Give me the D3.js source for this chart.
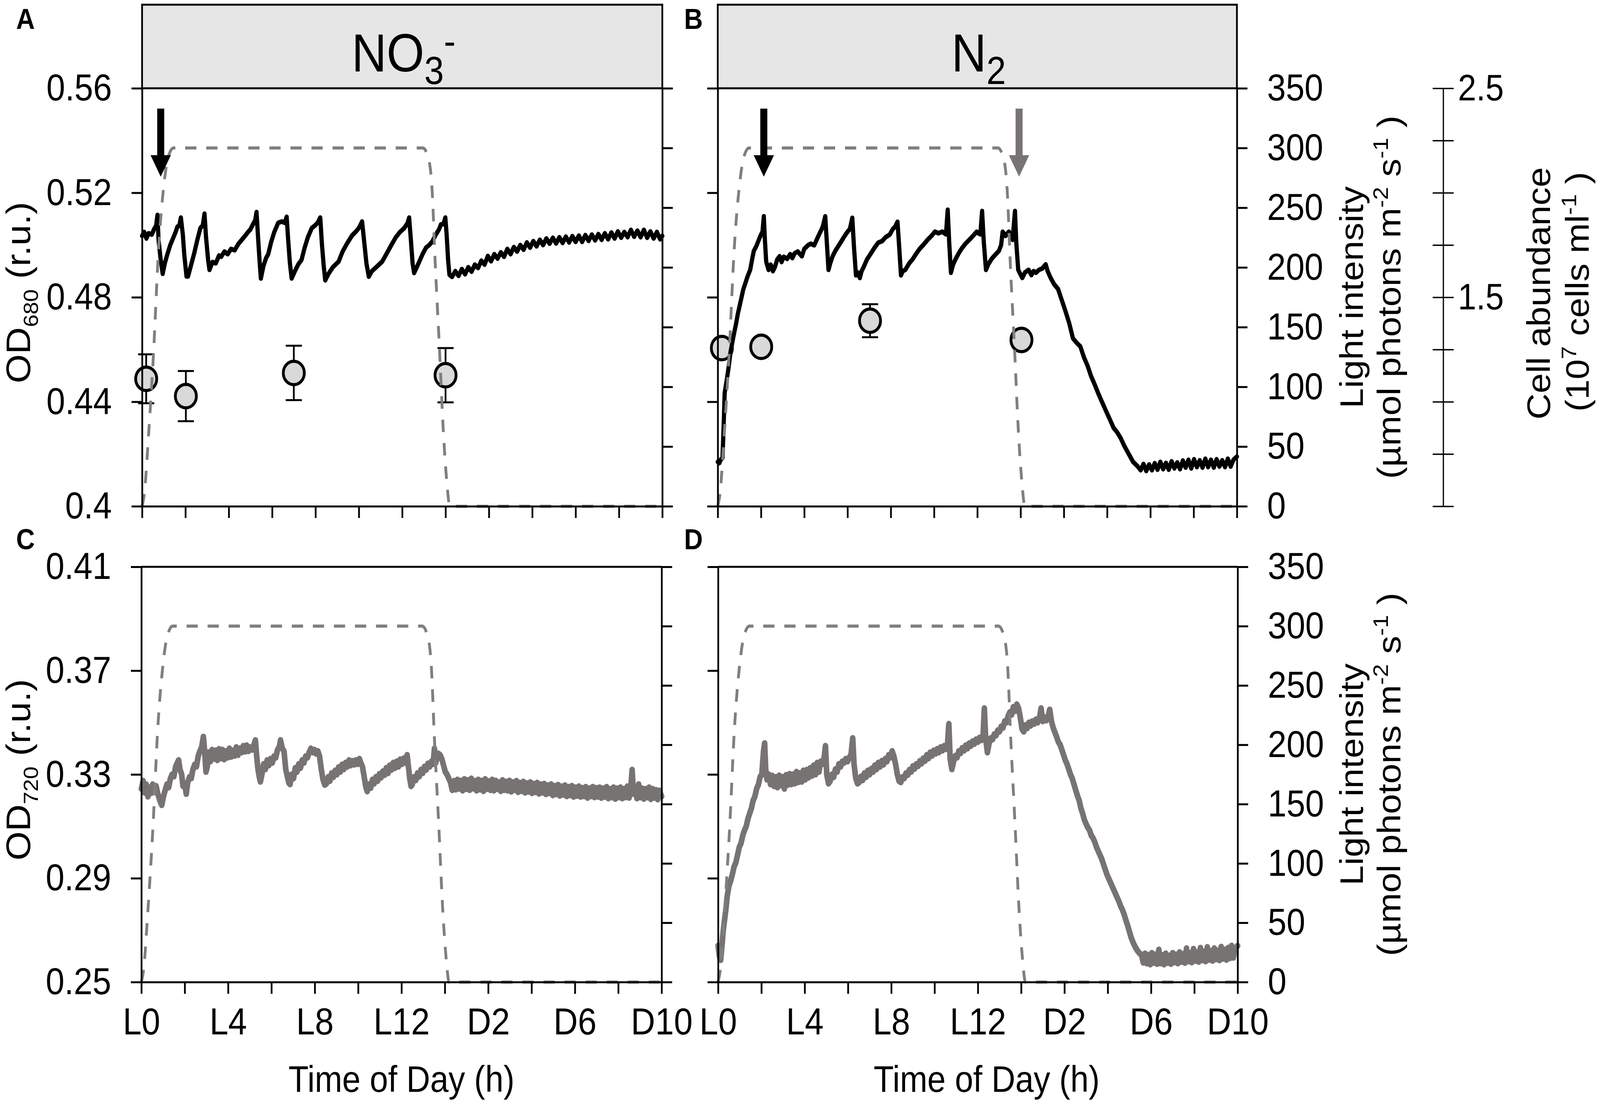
<!DOCTYPE html>
<html>
<head>
<meta charset="utf-8">
<script src="https://cdn.jsdelivr.net/npm/d3@7"></script>
<style>
  html, body { margin: 0; padding: 0; background: #fff; overflow: hidden; }
  svg { display: block; width: 100vw; height: 100vh; }
</style>
</head>
<body>
<div id="chart"></div>
<script>
// ---- data (time in h after lights on: L0..L14 = D0..D10) ----
const lightCurve = [[0,0],[0.1,10],[0.3,60],[0.53,129],[0.76,215],[1.0,268],[1.2,292],[1.45,300],[12.95,300],[13.2,292],[13.38,265],[13.52,205],[13.72,132],[13.9,62],[14.06,20],[14.2,0],[24,0]];

// OD680, NO3- culture
const odA = [[0,0.5035],[0.1,0.5050],[0.2,0.5025],[0.3,0.5045],[0.45,0.5040],[0.55,0.5060],[0.65,0.5075],[0.71,0.5115],[0.76,0.5020],[0.85,0.4950],[0.95,0.4890],[1.05,0.4930],[1.15,0.4960],[1.3,0.5000],[1.45,0.5030],[1.55,0.5050],[1.63,0.5070],[1.72,0.5075],[1.79,0.5105],[1.88,0.5040],[1.95,0.4960],[2.05,0.4880],[2.12,0.4880],[2.25,0.4920],[2.41,0.4970],[2.55,0.5020],[2.69,0.5065],[2.8,0.5075],[2.88,0.5120],[2.95,0.5030],[3.05,0.4940],[3.11,0.4905],[3.25,0.4935],[3.4,0.4930],[3.55,0.4960],[3.65,0.4955],[3.8,0.4975],[3.95,0.4965],[4.1,0.4985],[4.27,0.4980],[4.45,0.5005],[4.6,0.5020],[4.75,0.5035],[4.89,0.5050],[5.0,0.5060],[5.12,0.5080],[5.22,0.5095],[5.28,0.5126],[5.35,0.5030],[5.42,0.4940],[5.48,0.4872],[5.6,0.4920],[5.72,0.4950],[5.82,0.4965],[5.95,0.5010],[6.1,0.5050],[6.28,0.5085],[6.45,0.5090],[6.58,0.5085],[6.67,0.5108],[6.74,0.5020],[6.82,0.4930],[6.9,0.4872],[7.05,0.4900],[7.2,0.4925],[7.36,0.4944],[7.5,0.4990],[7.65,0.5030],[7.83,0.5065],[7.98,0.5075],[8.1,0.5085],[8.22,0.5105],[8.3,0.5000],[8.38,0.4920],[8.45,0.4865],[8.6,0.4890],[8.8,0.4915],[9.07,0.4937],[9.25,0.4975],[9.45,0.5005],[9.69,0.5037],[9.85,0.5050],[10.0,0.5065],[10.15,0.5090],[10.25,0.5010],[10.35,0.4930],[10.46,0.4879],[10.6,0.4900],[10.8,0.4915],[11.08,0.4937],[11.3,0.4970],[11.5,0.5000],[11.7,0.5029],[11.9,0.5050],[12.1,0.5065],[12.25,0.5085],[12.32,0.5105],[12.4,0.5020],[12.48,0.4930],[12.55,0.4893],[12.7,0.4920],[12.94,0.4965],[13.1,0.4990],[13.25,0.5000],[13.4,0.5015],[13.55,0.5040],[13.7,0.5060],[13.79,0.5079],[13.9,0.5080],[13.99,0.5105],[14.05,0.5040],[14.12,0.4940],[14.18,0.4886],[14.30,0.4878],[14.45,0.4900],[14.60,0.4882],[14.75,0.4908],[14.90,0.4888],[15.05,0.4915],[15.20,0.4898],[15.35,0.4925],[15.50,0.4912],[15.65,0.4940],[15.80,0.4925],[15.95,0.4958],[16.10,0.4938],[16.25,0.4965],[16.40,0.4948],[16.55,0.4972],[16.70,0.4955],[16.85,0.4985],[17.00,0.4965],[17.15,0.4992],[17.30,0.4975],[17.45,0.5000],[17.60,0.4982],[17.75,0.5010],[17.90,0.4990],[18.05,0.5015],[18.20,0.4995],[18.35,0.5020],[18.50,0.5000],[18.65,0.5025],[18.80,0.5005],[18.95,0.5028],[19.10,0.5006],[19.25,0.5030],[19.40,0.5008],[19.55,0.5032],[19.70,0.5010],[19.85,0.5034],[20.00,0.5012],[20.15,0.5036],[20.30,0.5012],[20.45,0.5038],[20.60,0.5016],[20.75,0.5040],[20.90,0.5018],[21.05,0.5042],[21.20,0.5020],[21.35,0.5045],[21.50,0.5022],[21.65,0.5048],[21.80,0.5025],[21.95,0.5052],[22.10,0.5028],[22.25,0.5050],[22.40,0.5030],[22.55,0.5058],[22.70,0.5032],[22.85,0.5055],[23.00,0.5030],[23.15,0.5058],[23.30,0.5028],[23.45,0.5052],[23.60,0.5025],[23.75,0.5050],[23.90,0.5022],[24.00,0.5035]];

// OD680, N2 culture
const odB = [[0,0.4170],[0.07,0.4165],[0.15,0.4180],[0.22,0.4185],[0.27,0.4300],[0.32,0.4433],[0.42,0.4485],[0.5,0.4530],[0.59,0.4590],[0.68,0.4630],[0.76,0.4664],[0.85,0.4700],[0.93,0.4737],[1.02,0.4770],[1.1,0.4800],[1.18,0.4830],[1.27,0.4852],[1.38,0.4880],[1.5,0.4905],[1.6,0.4950],[1.67,0.4978],[1.78,0.4995],[1.9,0.5020],[2.0,0.5040],[2.07,0.5051],[2.13,0.5110],[2.18,0.5020],[2.24,0.4936],[2.35,0.4905],[2.45,0.4925],[2.55,0.4900],[2.64,0.4915],[2.75,0.4945],[2.86,0.4957],[2.95,0.4935],[3.05,0.4955],[3.21,0.4947],[3.35,0.4965],[3.45,0.4950],[3.55,0.4968],[3.7,0.4975],[3.89,0.4957],[4.0,0.4985],[4.17,0.4999],[4.3,0.5005],[4.46,0.4999],[4.6,0.5025],[4.69,0.5041],[4.8,0.5060],[4.86,0.5072],[4.97,0.5110],[5.05,0.5000],[5.12,0.4905],[5.2,0.4930],[5.31,0.4957],[5.45,0.4980],[5.6,0.4999],[5.72,0.5015],[5.83,0.5030],[5.95,0.5045],[6.11,0.5062],[6.22,0.5104],[6.3,0.4990],[6.39,0.4884],[6.47,0.4895],[6.57,0.4874],[6.65,0.4900],[6.74,0.4915],[6.9,0.4945],[7.08,0.4968],[7.25,0.4990],[7.42,0.5009],[7.6,0.5015],[7.76,0.5030],[7.95,0.5040],[8.1,0.5062],[8.2,0.5070],[8.31,0.5089],[8.39,0.4990],[8.47,0.4884],[8.55,0.4900],[8.67,0.4905],[8.85,0.4930],[9.02,0.4947],[9.2,0.4970],[9.36,0.4988],[9.5,0.5000],[9.7,0.5020],[9.88,0.5035],[10.04,0.5051],[10.2,0.5045],[10.38,0.5051],[10.55,0.5041],[10.63,0.5135],[10.7,0.5010],[10.78,0.4894],[10.88,0.4925],[11.0,0.4947],[11.15,0.4970],[11.29,0.4988],[11.45,0.5005],[11.63,0.5020],[11.8,0.5035],[11.97,0.5051],[12.05,0.5045],[12.14,0.5041],[12.22,0.5130],[12.3,0.5010],[12.4,0.4905],[12.5,0.4925],[12.66,0.4947],[12.8,0.4960],[13.0,0.4978],[13.1,0.5000],[13.17,0.5051],[13.3,0.5035],[13.46,0.5051],[13.55,0.5030],[13.63,0.5020],[13.74,0.5130],[13.8,0.5010],[13.89,0.4905],[13.98,0.4890],[14.08,0.4874],[14.2,0.4895],[14.37,0.4905],[14.5,0.4885],[14.6,0.4900],[14.71,0.4894],[14.85,0.4905],[15.0,0.4910],[15.16,0.4926],[15.25,0.4900],[15.39,0.4874],[15.55,0.4850],[15.73,0.4832],[15.9,0.4790],[16.07,0.4748],[16.25,0.4700],[16.42,0.4643],[16.6,0.4625],[16.76,0.4612],[16.93,0.4570],[17.1,0.4537],[17.25,0.4500],[17.44,0.4463],[17.6,0.4430],[17.76,0.4400],[17.92,0.4370],[18.09,0.4339],[18.3,0.4300],[18.45,0.4285],[18.62,0.4262],[18.8,0.4230],[19.02,0.4197],[19.2,0.4170],[19.42,0.4152],[19.55,0.4138],[19.68,0.4162],[19.81,0.4135],[19.94,0.4160],[20.07,0.4138],[20.20,0.4165],[20.33,0.4140],[20.46,0.4170],[20.59,0.4142],[20.72,0.4166],[20.85,0.4140],[20.98,0.4172],[21.11,0.4145],[21.24,0.4168],[21.37,0.4142],[21.50,0.4175],[21.63,0.4148],[21.76,0.4178],[21.89,0.4145],[22.02,0.4180],[22.15,0.4150],[22.28,0.4176],[22.41,0.4148],[22.54,0.4182],[22.67,0.4150],[22.80,0.4178],[22.93,0.4148],[23.06,0.4180],[23.19,0.4152],[23.32,0.4176],[23.45,0.4150],[23.58,0.4182],[23.71,0.4152],[23.84,0.4178],[24.00,0.4190]];

// OD720, NO3- culture
const odC = [[0.00,0.3245],[0.08,0.3275],[0.15,0.3230],[0.22,0.3262],[0.30,0.3215],[0.38,0.3250],[0.45,0.3228],[0.52,0.3262],[0.60,0.3232],[0.68,0.3255],[0.76,0.3225],[0.85,0.3200],[0.94,0.3182],[1.02,0.3215],[1.10,0.3240],[1.18,0.3262],[1.26,0.3250],[1.34,0.3285],[1.42,0.3300],[1.50,0.3292],[1.58,0.3330],[1.66,0.3345],[1.72,0.3355],[1.78,0.3320],[1.86,0.3300],[1.92,0.3255],[2.00,0.3262],[2.07,0.3225],[2.14,0.3270],[2.22,0.3290],[2.30,0.3285],[2.38,0.3320],[2.46,0.3338],[2.54,0.3330],[2.62,0.3370],[2.70,0.3390],[2.78,0.3405],[2.86,0.3445],[2.92,0.3390],[2.98,0.3310],[3.04,0.3330],[3.10,0.3385],[3.18,0.3350],[3.26,0.3395],[3.34,0.3360],[3.42,0.3392],[3.50,0.3355],[3.58,0.3398],[3.66,0.3362],[3.74,0.3395],[3.82,0.3358],[3.90,0.3390],[3.98,0.3365],[4.06,0.3400],[4.14,0.3368],[4.22,0.3392],[4.30,0.3372],[4.38,0.3405],[4.46,0.3375],[4.54,0.3400],[4.62,0.3385],[4.70,0.3410],[4.78,0.3388],[4.86,0.3412],[4.94,0.3390],[5.02,0.3405],[5.10,0.3395],[5.18,0.3410],[5.26,0.3432],[5.32,0.3370],[5.38,0.3320],[5.44,0.3290],[5.49,0.3272],[5.56,0.3300],[5.64,0.3340],[5.72,0.3320],[5.80,0.3355],[5.88,0.3335],[5.96,0.3360],[6.04,0.3345],[6.12,0.3370],[6.20,0.3365],[6.28,0.3395],[6.36,0.3405],[6.42,0.3432],[6.50,0.3400],[6.58,0.3390],[6.66,0.3320],[6.74,0.3290],[6.80,0.3268],[6.86,0.3262],[6.94,0.3300],[7.02,0.3285],[7.10,0.3325],[7.18,0.3310],[7.26,0.3340],[7.34,0.3325],[7.42,0.3355],[7.50,0.3345],[7.58,0.3370],[7.66,0.3365],[7.74,0.3385],[7.82,0.3400],[7.90,0.3385],[7.98,0.3395],[8.06,0.3380],[8.14,0.3390],[8.22,0.3370],[8.30,0.3320],[8.38,0.3280],[8.46,0.3260],[8.54,0.3265],[8.62,0.3290],[8.70,0.3275],[8.78,0.3305],[8.86,0.3290],[8.94,0.3315],[9.02,0.3300],[9.10,0.3328],[9.18,0.3310],[9.26,0.3338],[9.34,0.3320],[9.42,0.3345],[9.50,0.3330],[9.58,0.3355],[9.66,0.3335],[9.74,0.3352],[9.82,0.3338],[9.90,0.3355],[9.98,0.3340],[10.06,0.3360],[10.12,0.3345],[10.20,0.3330],[10.28,0.3290],[10.36,0.3250],[10.42,0.3235],[10.50,0.3262],[10.58,0.3248],[10.66,0.3280],[10.74,0.3265],[10.82,0.3290],[10.90,0.3275],[10.98,0.3302],[11.06,0.3288],[11.14,0.3312],[11.22,0.3298],[11.30,0.3325],[11.38,0.3305],[11.46,0.3335],[11.54,0.3318],[11.62,0.3345],[11.70,0.3325],[11.78,0.3350],[11.86,0.3330],[11.94,0.3358],[12.02,0.3340],[12.10,0.3362],[12.18,0.3345],[12.26,0.3375],[12.32,0.3330],[12.38,0.3285],[12.44,0.3255],[12.50,0.3262],[12.58,0.3290],[12.66,0.3278],[12.74,0.3305],[12.82,0.3292],[12.90,0.3318],[12.98,0.3305],[13.06,0.3330],[13.14,0.3318],[13.22,0.3342],[13.30,0.3330],[13.38,0.3350],[13.46,0.3340],[13.52,0.3400],[13.58,0.3345],[13.64,0.3365],[13.70,0.3380],[13.78,0.3375],[13.86,0.3360],[13.94,0.3335],[14.02,0.3310],[14.10,0.3300],[14.18,0.3285],[14.26,0.3270],[14.34,0.3240],[14.42,0.3275],[14.50,0.3242],[14.58,0.3280],[14.66,0.3245],[14.74,0.3276],[14.82,0.3238],[14.90,0.3282],[14.98,0.3244],[15.06,0.3278],[15.14,0.3240],[15.22,0.3284],[15.30,0.3246],[15.38,0.3275],[15.46,0.3238],[15.54,0.3280],[15.62,0.3242],[15.70,0.3276],[15.78,0.3236],[15.86,0.3282],[15.94,0.3244],[16.02,0.3274],[16.10,0.3240],[16.18,0.3280],[16.26,0.3238],[16.34,0.3276],[16.42,0.3244],[16.50,0.3270],[16.58,0.3236],[16.66,0.3278],[16.74,0.3240],[16.82,0.3272],[16.90,0.3238],[16.98,0.3276],[17.06,0.3234],[17.14,0.3270],[17.22,0.3240],[17.30,0.3275],[17.38,0.3232],[17.46,0.3268],[17.54,0.3236],[17.62,0.3272],[17.70,0.3230],[17.78,0.3266],[17.86,0.3234],[17.94,0.3270],[18.02,0.3228],[18.10,0.3264],[18.18,0.3232],[18.26,0.3268],[18.34,0.3226],[18.42,0.3262],[18.50,0.3230],[18.58,0.3264],[18.66,0.3224],[18.74,0.3258],[18.82,0.3228],[18.90,0.3262],[18.98,0.3220],[19.06,0.3256],[19.14,0.3224],[19.22,0.3260],[19.30,0.3218],[19.38,0.3254],[19.46,0.3222],[19.54,0.3258],[19.62,0.3216],[19.70,0.3252],[19.78,0.3220],[19.86,0.3256],[19.94,0.3214],[20.02,0.3250],[20.10,0.3218],[20.18,0.3254],[20.26,0.3214],[20.34,0.3248],[20.42,0.3216],[20.50,0.3252],[20.58,0.3210],[20.66,0.3246],[20.74,0.3216],[20.82,0.3252],[20.90,0.3212],[20.98,0.3248],[21.06,0.3214],[21.14,0.3250],[21.22,0.3210],[21.30,0.3246],[21.38,0.3214],[21.46,0.3252],[21.54,0.3208],[21.62,0.3244],[21.70,0.3212],[21.78,0.3250],[21.86,0.3206],[21.94,0.3246],[22.02,0.3212],[22.10,0.3250],[22.18,0.3208],[22.26,0.3244],[22.34,0.3212],[22.42,0.3254],[22.50,0.3210],[22.58,0.3248],[22.64,0.3318],[22.70,0.3225],[22.78,0.3250],[22.86,0.3208],[22.94,0.3262],[23.02,0.3212],[23.10,0.3246],[23.18,0.3206],[23.26,0.3244],[23.34,0.3212],[23.42,0.3250],[23.50,0.3205],[23.58,0.3244],[23.66,0.3210],[23.74,0.3240],[23.82,0.3204],[23.90,0.3238],[24.00,0.3215]];

// OD720, N2 culture
const odD = [[0.00,0.2640],[0.06,0.2600],[0.12,0.2585],[0.18,0.2640],[0.24,0.2700],[0.30,0.2740],[0.36,0.2780],[0.42,0.2830],[0.50,0.2870],[0.58,0.2890],[0.66,0.2915],[0.74,0.2945],[0.82,0.2960],[0.90,0.2990],[0.98,0.3020],[1.06,0.3035],[1.14,0.3065],[1.22,0.3085],[1.30,0.3100],[1.38,0.3130],[1.46,0.3150],[1.54,0.3170],[1.62,0.3200],[1.70,0.3215],[1.78,0.3245],[1.86,0.3260],[1.94,0.3290],[2.02,0.3300],[2.10,0.3390],[2.15,0.3420],[2.20,0.3320],[2.26,0.3280],[2.34,0.3300],[2.42,0.3262],[2.50,0.3295],[2.58,0.3255],[2.66,0.3290],[2.74,0.3250],[2.82,0.3296],[2.90,0.3258],[2.98,0.3290],[3.06,0.3245],[3.14,0.3298],[3.22,0.3260],[3.30,0.3302],[3.38,0.3262],[3.46,0.3300],[3.54,0.3265],[3.62,0.3310],[3.70,0.3270],[3.78,0.3305],[3.86,0.3272],[3.94,0.3315],[4.02,0.3280],[4.10,0.3318],[4.18,0.3288],[4.26,0.3325],[4.34,0.3295],[4.42,0.3335],[4.50,0.3300],[4.58,0.3345],[4.66,0.3310],[4.74,0.3350],[4.82,0.3340],[4.90,0.3365],[4.96,0.3410],[5.02,0.3300],[5.10,0.3265],[5.18,0.3275],[5.26,0.3300],[5.34,0.3290],[5.42,0.3320],[5.50,0.3310],[5.58,0.3340],[5.66,0.3330],[5.74,0.3350],[5.82,0.3345],[5.90,0.3360],[5.98,0.3350],[6.06,0.3365],[6.14,0.3375],[6.22,0.3440],[6.28,0.3340],[6.36,0.3285],[6.44,0.3265],[6.52,0.3270],[6.60,0.3292],[6.68,0.3278],[6.76,0.3305],[6.84,0.3290],[6.92,0.3315],[7.00,0.3300],[7.08,0.3322],[7.16,0.3310],[7.24,0.3335],[7.32,0.3320],[7.40,0.3345],[7.48,0.3330],[7.56,0.3352],[7.64,0.3338],[7.72,0.3360],[7.80,0.3350],[7.88,0.3375],[7.96,0.3365],[8.04,0.3390],[8.12,0.3370],[8.20,0.3340],[8.28,0.3300],[8.36,0.3275],[8.44,0.3270],[8.52,0.3290],[8.60,0.3285],[8.68,0.3305],[8.76,0.3298],[8.84,0.3318],[8.92,0.3310],[9.00,0.3332],[9.08,0.3322],[9.16,0.3340],[9.24,0.3332],[9.32,0.3352],[9.40,0.3342],[9.48,0.3362],[9.56,0.3352],[9.64,0.3375],[9.72,0.3362],[9.80,0.3385],[9.88,0.3372],[9.96,0.3392],[10.04,0.3380],[10.12,0.3398],[10.20,0.3385],[10.28,0.3405],[10.36,0.3392],[10.44,0.3410],[10.52,0.3398],[10.60,0.3420],[10.66,0.3495],[10.72,0.3360],[10.80,0.3320],[10.88,0.3350],[10.96,0.3372],[11.04,0.3365],[11.12,0.3390],[11.20,0.3382],[11.28,0.3402],[11.36,0.3392],[11.44,0.3412],[11.52,0.3400],[11.60,0.3420],[11.68,0.3410],[11.76,0.3428],[11.84,0.3418],[11.92,0.3435],[12.00,0.3425],[12.08,0.3442],[12.16,0.3432],[12.24,0.3448],[12.30,0.3555],[12.36,0.3440],[12.44,0.3385],[12.52,0.3420],[12.60,0.3440],[12.68,0.3435],[12.76,0.3455],[12.84,0.3450],[12.92,0.3470],[13.00,0.3465],[13.08,0.3485],[13.16,0.3480],[13.24,0.3505],[13.32,0.3500],[13.40,0.3525],[13.48,0.3540],[13.56,0.3530],[13.64,0.3560],[13.72,0.3545],[13.80,0.3570],[13.88,0.3555],[13.96,0.3520],[14.04,0.3475],[14.12,0.3465],[14.20,0.3490],[14.28,0.3478],[14.36,0.3500],[14.44,0.3488],[14.52,0.3505],[14.60,0.3495],[14.68,0.3512],[14.76,0.3500],[14.84,0.3515],[14.92,0.3555],[15.00,0.3505],[15.08,0.3520],[15.16,0.3508],[15.24,0.3520],[15.32,0.3550],[15.40,0.3505],[15.48,0.3480],[15.56,0.3462],[15.64,0.3445],[15.72,0.3425],[15.80,0.3415],[15.88,0.3395],[15.96,0.3375],[16.04,0.3355],[16.12,0.3340],[16.20,0.3320],[16.28,0.3300],[16.36,0.3285],[16.44,0.3262],[16.52,0.3240],[16.60,0.3218],[16.68,0.3200],[16.76,0.3170],[16.84,0.3150],[16.92,0.3125],[17.00,0.3110],[17.08,0.3095],[17.16,0.3085],[17.24,0.3065],[17.32,0.3055],[17.40,0.3040],[17.48,0.3020],[17.56,0.3005],[17.64,0.2990],[17.72,0.2975],[17.80,0.2955],[17.88,0.2935],[17.96,0.2915],[18.04,0.2900],[18.12,0.2885],[18.20,0.2870],[18.28,0.2855],[18.36,0.2840],[18.44,0.2825],[18.52,0.2810],[18.60,0.2792],[18.68,0.2778],[18.76,0.2760],[18.84,0.2738],[18.92,0.2718],[19.00,0.2695],[19.08,0.2672],[19.16,0.2655],[19.24,0.2640],[19.32,0.2628],[19.40,0.2618],[19.48,0.2610],[19.56,0.2605],[19.64,0.2575],[19.72,0.2610],[19.80,0.2572],[19.88,0.2605],[19.96,0.2568],[20.04,0.2612],[20.12,0.2574],[20.20,0.2606],[20.28,0.2570],[20.36,0.2625],[20.44,0.2572],[20.52,0.2604],[20.60,0.2568],[20.68,0.2610],[20.76,0.2574],[20.84,0.2602],[20.92,0.2570],[21.00,0.2612],[21.08,0.2576],[21.16,0.2606],[21.24,0.2572],[21.32,0.2615],[21.40,0.2578],[21.48,0.2608],[21.56,0.2574],[21.64,0.2630],[21.72,0.2580],[21.80,0.2612],[21.88,0.2576],[21.96,0.2628],[22.04,0.2582],[22.12,0.2615],[22.20,0.2578],[22.28,0.2632],[22.36,0.2584],[22.44,0.2618],[22.52,0.2580],[22.60,0.2635],[22.68,0.2586],[22.76,0.2620],[22.84,0.2582],[22.92,0.2630],[23.00,0.2588],[23.08,0.2622],[23.16,0.2584],[23.24,0.2636],[23.32,0.2590],[23.40,0.2625],[23.48,0.2586],[23.56,0.2632],[23.64,0.2592],[23.72,0.2640],[23.80,0.2594],[23.88,0.2628],[24.00,0.2640]];

// cell abundance (10^7 cells/ml): sampling time, mean, error
const cellTimesA = [0.19, 2.02, 7.0, 14.0];
const cellMeanA = [1.11, 1.027, 1.138, 1.127];
const cellErrA = [0.117, 0.12, 0.13, 0.13];
const cellTimesB = [0.19, 2.01, 7.04, 14.04];
const cellMeanB = [1.257, 1.263, 1.388, 1.296];
const cellErrB = [0.02, 0.02, 0.079, 0.04];

// arrows (time in h)
const arrowsA = [{ t: 0.86, color: "#000" }];
const arrowsB = [{ t: 2.13, color: "#000" }, { t: 13.93, color: "#787474" }];

const timeTicks = [0, 2, 4, 6, 8, 10, 12, 14, 16, 18, 20, 22, 24];
const od680Ticks = [0.40, 0.44, 0.48, 0.52, 0.56];
const od720Ticks = [0.25, 0.29, 0.33, 0.37, 0.41];
const lightTicks = [0, 50, 100, 150, 200, 250, 300, 350];
const cellTicks = [0.5, 0.75, 1.0, 1.25, 1.5, 1.75, 2.0, 2.25, 2.5];
const cellLabels = [1.5, 2.5];

const FONT = "'Liberation Sans', Arial, Helvetica, sans-serif";
const W = 4561, H = 2821;

// drawing coordinates are those of the 4561x2821 figure; stretched to the window
const svg = d3.select("#chart").append("svg")
  .attr("viewBox", `0 0 ${W} ${H}`)
  .attr("preserveAspectRatio", "none");

svg.append("rect").attr("width", W).attr("height", H).attr("fill", "#fff");

const panels = [
  { id: "A", x0: 405, x1: 1888, y0: 226, y1: 1296, od: odA, odDomain: [0.40, 0.56], odTicks: od680Ticks,
    odColor: "#000", odWidth: 12, header: "NO3", leftLabels: true, rightLabels: false, timeLabels: false,
    cell: [cellTimesA, cellMeanA, cellErrA], arrows: arrowsA, letterX: 46, letterY: 74 },
  { id: "B", x0: 2046, x1: 3526, y0: 226, y1: 1296, od: odB, odDomain: [0.40, 0.56], odTicks: od680Ticks,
    odColor: "#000", odWidth: 12, header: "N2", leftLabels: false, rightLabels: true, timeLabels: false,
    cell: [cellTimesB, cellMeanB, cellErrB], arrows: arrowsB, letterX: 1950, letterY: 74 },
  { id: "C", x0: 403, x1: 1886, y0: 1451, y1: 2514, od: odC, odDomain: [0.25, 0.41], odTicks: od720Ticks,
    odColor: "#777373", odWidth: 16, header: null, leftLabels: true, rightLabels: false, timeLabels: true,
    cell: null, arrows: [], letterX: 46, letterY: 1406 },
  { id: "D", x0: 2047, x1: 3528, y0: 1451, y1: 2514, od: odD, odDomain: [0.25, 0.41], odTicks: od720Ticks,
    odColor: "#777373", odWidth: 16, header: null, leftLabels: false, rightLabels: true, timeLabels: true,
    cell: null, arrows: [], letterX: 1950, letterY: 1406 }
];

function styleAxis(g, labelSize) {
  g.attr("font-family", FONT).attr("font-size", labelSize);
  g.select(".domain").attr("stroke", "#000").attr("stroke-width", 5);
  g.selectAll(".tick line").attr("stroke", "#000").attr("stroke-width", 5);
  g.selectAll(".tick text").attr("fill", "#000");
}

function timeLabel(t) {
  if (t % 4 !== 0) return "";
  return t < 14 ? "L" + t : "D" + (t - 14);
}

panels.forEach(p => {
  const x = d3.scaleLinear().domain([0, 24]).range([p.x0, p.x1]);
  const yOD = d3.scaleLinear().domain(p.odDomain).range([p.y1, p.y0]);
  const yLight = d3.scaleLinear().domain([0, 350]).range([p.y1, p.y0]);
  const yCell = d3.scaleLinear().domain([0.5, 2.5]).range([p.y1, p.y0]);

  const g = svg.append("g").attr("id", "panel" + p.id);

  // header strip
  if (p.header) {
    g.append("rect")
      .attr("x", p.x0).attr("y", 12)
      .attr("width", p.x1 - p.x0).attr("height", p.y0 - 12)
      .attr("fill", "#e6e6e6")
      .attr("stroke", "#000").attr("stroke-width", 5);
    const ht = g.append("text")
      .attr("x", (p.x0 + p.x1) / 2 + 4)
      .attr("y", 183)
      .attr("text-anchor", "middle")
      .attr("font-family", FONT)
      .attr("font-size", 138)
      .attr("fill", "#000");
    if (p.header === "NO3") {
      ht.append("tspan").text("NO");
      ht.append("tspan").attr("font-size", 100).attr("dy", 32).text("3");
      ht.append("tspan").attr("font-size", 100).attr("dy", -75).text("-");
    } else {
      ht.append("tspan").text("N");
      ht.append("tspan").attr("font-size", 100).attr("dy", 32).text("2");
    }
  } else {
    g.append("line")
      .attr("x1", p.x0).attr("x2", p.x1)
      .attr("y1", p.y0).attr("y2", p.y0)
      .attr("stroke", "#000").attr("stroke-width", 5);
  }

  // panel letter
  g.append("text")
    .attr("x", p.letterX).attr("y", p.letterY)
    .attr("font-family", FONT)
    .attr("font-weight", "bold")
    .attr("font-size", 74)
    .text(p.id);

  // cell abundance points with error bars
  if (p.cell) {
    const cells = d3.zip(p.cell[0], p.cell[1], p.cell[2]);
    const pts = g.append("g").attr("class", "cells");
    pts.selectAll("line.err")
      .data(cells)
      .enter()
      .append("line")
      .attr("class", "err")
      .attr("x1", d => x(d[0])).attr("x2", d => x(d[0]))
      .attr("y1", d => yCell(d[1] + d[2])).attr("y2", d => yCell(d[1] - d[2]))
      .attr("stroke", "#000").attr("stroke-width", 5);
    [1, -1].forEach(s => {
      pts.selectAll("line.cap" + (s > 0 ? "u" : "d"))
        .data(cells)
        .enter()
        .append("line")
        .attr("class", "cap" + (s > 0 ? "u" : "d"))
        .attr("x1", d => x(d[0]) - 23).attr("x2", d => x(d[0]) + 23)
        .attr("y1", d => yCell(d[1] + s * d[2])).attr("y2", d => yCell(d[1] + s * d[2]))
        .attr("stroke", "#000").attr("stroke-width", 5);
    });
    pts.selectAll("circle")
      .data(cells)
      .enter()
      .append("circle")
      .attr("cx", d => x(d[0]))
      .attr("cy", d => yCell(d[1]))
      .attr("r", 30)
      .attr("fill", "#d9d9d9")
      .attr("stroke", "#000")
      .attr("stroke-width", 8);
  }

  // OD trace
  const odLine = d3.line().x(d => x(d[0])).y(d => yOD(d[1]));
  g.append("path")
    .datum(p.od)
    .attr("d", odLine)
    .attr("fill", "none")
    .attr("stroke", p.odColor)
    .attr("stroke-width", p.odWidth)
    .attr("stroke-linejoin", "round")
    .attr("stroke-linecap", "round");

  // light regime, dashed
  const lightLine = d3.line().x(d => x(d[0])).y(d => yLight(d[1])).curve(d3.curveMonotoneX);
  g.append("path")
    .datum(lightCurve)
    .attr("d", lightLine)
    .attr("fill", "none")
    .attr("stroke", "#7f7f7f")
    .attr("stroke-width", 8)
    .attr("stroke-dasharray", "32,28");

  // arrows
  p.arrows.forEach(a => {
    const ax = x(a.t);
    const top = yLight(333), base = yLight(294), tip = yLight(276);
    g.append("path")
      .attr("d", `M${ax - 10},${top}H${ax + 10}V${base}H${ax + 29}L${ax},${tip}L${ax - 29},${base}H${ax - 10}Z`)
      .attr("fill", a.color);
  });

  // left axis (OD)
  const left = g.append("g")
    .attr("transform", `translate(${p.x0},0)`)
    .call(d3.axisLeft(yOD).tickValues(p.odTicks).tickSize(30).tickSizeOuter(0).tickPadding(56)
      .tickFormat(p.leftLabels ? d3.format(".2~f") : () => ""));
  styleAxis(left, 96);

  // right axis (light)
  const right = g.append("g")
    .attr("transform", `translate(${p.x1},0)`)
    .call(d3.axisRight(yLight).tickValues(lightTicks).tickSize(30).tickSizeOuter(0).tickPadding(56)
      .tickFormat(p.rightLabels ? d3.format("d") : () => ""));
  styleAxis(right, 96);

  // bottom axis (time)
  const bottom = g.append("g")
    .attr("transform", `translate(0,${p.y1})`)
    .call(d3.axisBottom(x).tickValues(timeTicks).tickSize(30).tickSizeOuter(0).tickPadding(36)
      .tickFormat(p.timeLabels ? timeLabel : () => ""));
  styleAxis(bottom, 96);

  // left axis title
  if (p.leftLabels) {
    const lt = g.append("text")
      .attr("transform", `translate(86,${(p.y0 + p.y1) / 2 - 12}) rotate(-90)`)
      .attr("text-anchor", "middle")
      .attr("font-family", FONT)
      .attr("font-size", 96)
      .attr("fill", "#000");
    lt.append("tspan").text("OD");
    lt.append("tspan").attr("font-size", 58).attr("dy", 22).text(p.id === "A" ? "680" : "720");
    lt.append("tspan").attr("dy", -22).text(" (r.u.)");
  }

  // light axis title
  if (p.rightLabels) {
    const cy = (p.y0 + p.y1) / 2;
    g.append("text")
      .attr("transform", `translate(3885,${cy}) rotate(-90)`)
      .attr("text-anchor", "middle")
      .attr("font-family", FONT)
      .attr("font-size", 93)
      .text("Light intensity");
    const t2 = g.append("text")
      .attr("transform", `translate(3992,${cy}) rotate(-90)`)
      .attr("text-anchor", "middle")
      .attr("font-family", FONT)
      .attr("font-size", 93);
    t2.append("tspan").text("(µmol photons m");
    t2.append("tspan").attr("font-size", 60).attr("dy", -36).text("-2");
    t2.append("tspan").attr("dy", 36).text(" s");
    t2.append("tspan").attr("font-size", 60).attr("dy", -36).text("-1");
    t2.append("tspan").attr("dy", 36).text(" )");
  }

  // time axis title
  if (p.timeLabels) {
    g.append("text")
      .attr("x", (p.x0 + p.x1) / 2 + (p.id === "D" ? 25 : 0))
      .attr("y", 2795)
      .attr("text-anchor", "middle")
      .attr("font-family", FONT)
      .attr("font-size", 94)
      .text("Time of Day (h)");
  }

  // extra cell abundance axis to the right of panel B
  if (p.id === "B") {
    const cellAxis = svg.append("g")
      .attr("transform", "translate(4114,0)")
      .call(d3.axisRight(yCell).tickValues(cellTicks).tickSize(30).tickSizeOuter(0).tickPadding(12)
        .tickFormat(d => cellLabels.includes(d) ? d3.format(".1f")(d) : ""));
    styleAxis(cellAxis, 94);
    cellAxis.select(".domain").attr("stroke-width", 3.5);
    cellAxis.selectAll(".tick line").attr("x1", -30).attr("stroke-width", 3.5);

    const cy = (p.y0 + p.y1) / 2 - 10;
    svg.append("text")
      .attr("transform", `translate(4418,${cy}) rotate(-90)`)
      .attr("text-anchor", "middle")
      .attr("font-family", FONT)
      .attr("font-size", 93)
      .text("Cell abundance");
    const c2 = svg.append("text")
      .attr("transform", `translate(4529,${cy - 4}) rotate(-90)`)
      .attr("text-anchor", "middle")
      .attr("font-family", FONT)
      .attr("font-size", 93);
    c2.append("tspan").text("(10");
    c2.append("tspan").attr("font-size", 60).attr("dy", -36).text("7");
    c2.append("tspan").attr("dy", 36).text(" cells ml");
    c2.append("tspan").attr("font-size", 60).attr("dy", -36).text("-1");
    c2.append("tspan").attr("dy", 36).text(" )");
  }
});
</script>
</body>
</html>
